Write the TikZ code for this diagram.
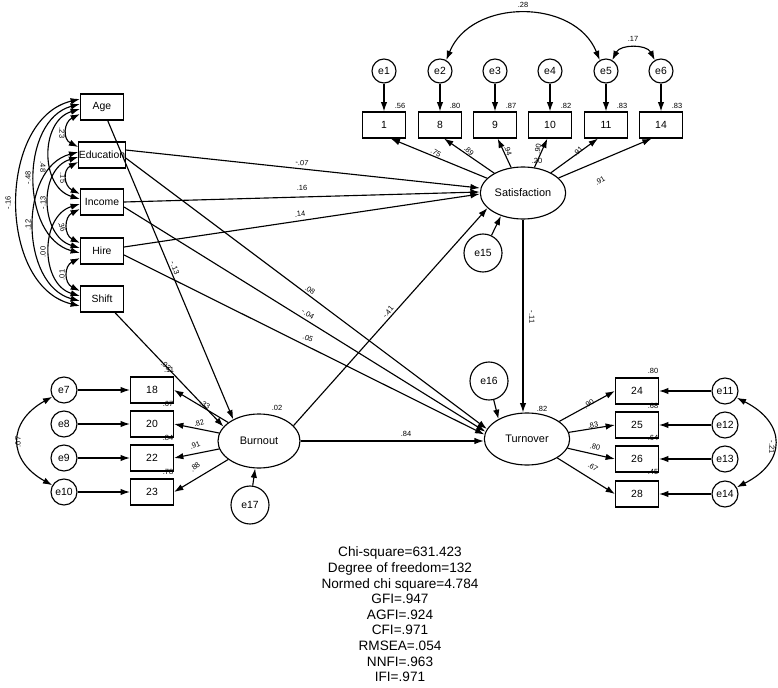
\documentclass[tikz,border=0pt]{standalone}
\usepackage{fontspec}
\setmainfont{Liberation Sans}
\usetikzlibrary{arrows.meta,shapes.geometric,calc}
\begin{document}
\begin{tikzpicture}[x=0.75pt,y=0.75pt,
 >={Latex[length=7pt,width=4.8pt]},
 conn/.style={->,line width=0.85pt},
 dconn/.style={<->,line width=0.85pt},
 obs/.style={draw,line width=0.85pt,minimum width=32.25pt,minimum height=19.5pt,inner sep=0pt,font=\fontsize{7.8}{8}\selectfont},
 err/.style={draw,circle,line width=0.85pt,minimum size=18pt,inner sep=0pt,font=\fontsize{7.8}{8}\selectfont},
 errb/.style={err,minimum size=19.5pt},
 errl/.style={err,minimum size=28.5pt},
 lat/.style={draw,ellipse,line width=0.85pt,minimum width=64pt,minimum height=39pt,inner sep=0pt,font=\fontsize{8.2}{9}\selectfont},
 lbl/.style={font=\fontsize{5.6}{6}\selectfont,inner sep=0.5pt},
 stats/.style={align=center,font=\fontsize{10.2}{11.7}\selectfont,inner sep=0pt},
]
\useasboundingbox (0,0) rectangle (778,687);

% exogenous boxes
\node[obs] (age)   at (102,580) {Age};
\node[obs] (edu)   at (102,532) {Education};
\node[obs] (inc)   at (102,485) {Income};
\node[obs] (hire)  at (102,436) {Hire};
\node[obs] (shift) at (102,388) {Shift};

% satisfaction indicators
\node[obs] (b1)  at (384,562) {1};
\node[obs] (b8)  at (440,562) {8};
\node[obs] (b9)  at (495,562) {9};
\node[obs] (b10) at (550,562) {10};
\node[obs] (b11) at (606,562) {11};
\node[obs] (b14) at (661,562) {14};
\node[err] (e1) at (384,616) {e1};
\node[err] (e2) at (440,616) {e2};
\node[err] (e3) at (495,616) {e3};
\node[err] (e4) at (550,616) {e4};
\node[err] (e5) at (606,616) {e5};
\node[err] (e6) at (661,616) {e6};

% latents
\node[lat] (sat)  at (523,494) {Satisfaction};
\node[lat] (turn) at (527,248) {Turnover};
\node[lat,minimum width=61.5pt,minimum height=40.5pt] (burn) at (259,246) {Burnout};
\node[errl] (e15) at (483,434) {e15};
\node[errl] (e16) at (489,306) {e16};
\node[errl] (e17) at (250,182) {e17};

% burnout indicators
\node[obs] (b18) at (152,297) {18};
\node[obs] (b20) at (152,263) {20};
\node[obs] (b22) at (152,229) {22};
\node[obs] (b23) at (152,195) {23};
\node[errb] (e7)  at (64,297) {e7};
\node[errb] (e8)  at (64,263) {e8};
\node[errb] (e9)  at (64,229) {e9};
\node[errb] (e10) at (64,195) {e10};

% turnover indicators
\node[obs] (b24) at (637,296) {24};
\node[obs] (b25) at (637,262) {25};
\node[obs] (b26) at (637,228) {26};
\node[obs] (b28) at (637,193) {28};
\node[errb] (e11) at (725,296) {e11};
\node[errb] (e12) at (725,262) {e12};
\node[errb] (e13) at (725,228) {e13};
\node[errb] (e14) at (725,193) {e14};

% error arrows
\foreach \e/\b in {e1/b1,e2/b8,e3/b9,e4/b10,e5/b11,e6/b14,e7/b18,e8/b20,e9/b22,e10/b23,e11/b24,e12/b25,e13/b26,e14/b28}
  \draw[conn] (\e) -- (\b);

% satisfaction loadings
\draw[conn] (sat) -- ([xshift=5pt]b1.south);
\draw[conn] (sat) -- ([xshift=3pt]b8.south);
\draw[conn] (sat) -- ([xshift=2pt]b9.south);
\draw[conn] (sat) -- ([xshift=-2pt]b10.south);
\draw[conn] (sat) -- ([xshift=-6pt]b11.south);
\draw[conn] (sat) -- ([xshift=-7pt]b14.south);

% burnout / turnover loadings
\foreach \b in {b18,b20,b22,b23} \draw[conn] (burn) -- (\b.east);
\foreach \b in {b24,b25,b26,b28} \draw[conn] (turn) -- (\b.west);

% disturbances
\draw[conn] (e15) -- (sat.226);
\draw[conn] (e16) -- (turn.145);
\draw[conn] (e17) -- (burn);

% structural paths
\draw[conn] ($(edu.east)+(0,5)$) -- ($(sat.west)+(0,5)$);
\draw[conn] (inc.east) -- ($(sat.west)+(0,1)$);
\draw[conn] ($(hire.east)+(0,4)$) -- ($(sat.west)+(0,-1)$);
\draw[conn] (age) -- (burn.140);
\draw[conn] (shift) -- (burn.158);
\draw[conn] ($(edu.east)+(0,-3)$) -- (turn.166);
\draw[conn] ($(inc.east)+(0,-5)$) -- (turn.170);
\draw[conn] ($(hire.east)+(0,-4)$) -- (turn.174);
\draw[conn] (burn.24) -- (sat.203);
\draw[conn] (burn.east) -- (burn.east -| turn.west);
\draw[conn] (sat.south) -- (sat.south |- turn.north);

% covariances among exogenous
\draw[dconn] ($(age.west)+(0,-7)$) .. controls +(-16,-8) and +(-16,8) .. ($(edu.west)+(0,8)$);
\draw[dconn] ($(age.west)+(0,-2)$) .. controls +(-40,-12) and +(-40,12) .. ($(inc.west)+(0,3)$);
\draw[dconn] ($(age.west)+(0,3)$) .. controls +(-60,-16) and +(-60,16) .. ($(hire.west)+(0,-2)$);
\draw[dconn] ($(age.west)+(0,8)$) .. controls +(-83,-20) and +(-83,20) .. ($(shift.west)+(0,-7)$);
\draw[dconn] ($(edu.west)+(0,-7)$) .. controls +(-16,-8) and +(-16,8) .. ($(inc.west)+(0,8)$);
\draw[dconn] ($(edu.west)+(0,-2)$) .. controls +(-40,-12) and +(-40,12) .. ($(hire.west)+(0,3)$);
\draw[dconn] ($(edu.west)+(0,3)$) .. controls +(-60,-16) and +(-60,16) .. ($(shift.west)+(0,-2)$);
\draw[dconn] ($(inc.west)+(0,-7)$) .. controls +(-16,-8) and +(-16,8) .. ($(hire.west)+(0,8)$);
\draw[dconn] ($(inc.west)+(0,-2)$) .. controls +(-40,-12) and +(-40,12) .. ($(shift.west)+(0,3)$);
\draw[dconn] ($(hire.west)+(0,-7)$) .. controls +(-16,-8) and +(-16,8) .. ($(shift.west)+(0,8)$);

% error covariances
\draw[dconn] (e2.60) .. controls +(25,62) and +(-25,62) .. (e5.120);
\draw[dconn] (e5.60) .. controls +(8,16) and +(-8,16) .. (e6.120);
\draw[dconn] (e7.210) .. controls +(-45,-25) and +(-45,25) .. (e10.150);
\draw[dconn] (e11.330) .. controls +(50,-25) and +(50,25) .. (e14.30);

% labels: exogenous covariances
\node[lbl,rotate=-90] (c1) at (62,554) {.23};
\node[lbl,rotate=-90] (c2) at (43,520) {.48};
\node[lbl,rotate=90]  (c3) at (28,509) {-.48};
\node[lbl,rotate=90]  (c4) at (8,484) {-.16};
\node[lbl,rotate=-90] (c5) at (63,509) {.15};
\node[lbl,rotate=90]  (c6) at (43,484) {-.13};
\node[lbl,rotate=-70] (c7) at (62,460) {.36};
\node[lbl,rotate=90]  (c8) at (28,462) {.12};
\node[lbl,rotate=90]  (c9) at (43,435) {.00};
\node[lbl,rotate=90]  (c10) at (62,412) {.01};

% labels: satisfaction part
\node[lbl] (r1) at (400,581) {.56};
\node[lbl] (r8) at (455,581) {.80};
\node[lbl] (r9) at (511,581) {.87};
\node[lbl] (r10) at (566,581) {.82};
\node[lbl] (r11) at (622,581) {.83};
\node[lbl] (r14) at (677,581) {.83};
\node[lbl] (c28) at (523,682) {.28};
\node[lbl] (c17) at (633,648) {.17};
\node[lbl,rotate=-30] (l1) at (436,534) {.75};
\node[lbl,rotate=-45] (l8) at (469,536) {.89};
\node[lbl,rotate=-70] (l9) at (508,536) {.94};
\node[lbl,rotate=80]  (l10) at (538,538) {.90};
\node[lbl] (rsat) at (537,526) {.20};
\node[lbl,rotate=45]  (l11) at (578,536) {.91};
\node[lbl,rotate=30]  (l14) at (600,506) {.91};

% labels: structural
\node[lbl,rotate=-5]  (p1) at (302,524) {-.07};
\node[lbl]            (p2) at (302,499) {.16};
\node[lbl,rotate=6]   (p3) at (300,473) {.14};
\node[lbl,rotate=-68] (p4) at (175,419) {-.13};
\node[lbl,rotate=-35] (p5) at (310,397) {.08};
\node[lbl,rotate=-32] (p6) at (308,373) {-.04};
\node[lbl,rotate=-25] (p7) at (308,349) {.05};
\node[lbl,rotate=50]  (p8) at (388,375) {-.41};
\node[lbl,rotate=-90] (p9) at (532,370) {-.11};
\node[lbl]            (p10) at (406,253) {.84};
\node[lbl,rotate=-40] (p11) at (166,321) {.03};

% labels: burnout part
\node[lbl] (rburn) at (277,279) {.02};
\node[lbl] (r18) at (169,317) {.11};
\node[lbl] (r20) at (168,283) {.67};
\node[lbl] (r22) at (168,249) {.84};
\node[lbl] (r23) at (168,215) {.78};
\node[lbl,rotate=-30] (l18) at (205,282) {.33};
\node[lbl,rotate=15]  (l20) at (199,264) {.82};
\node[lbl,rotate=20]  (l22) at (195,242) {.91};
\node[lbl,rotate=40]  (l23) at (195,220) {.88};
\node[lbl,rotate=90]  (c07) at (18,245) {.07};

% labels: turnover part
\node[lbl] (rturn) at (542,278) {.82};
\node[lbl] (r24) at (653,316) {.80};
\node[lbl] (r25) at (653,281) {.68};
\node[lbl] (r26) at (653,249) {.64};
\node[lbl] (r28) at (653,215) {.45};
\node[lbl,rotate=35]  (l24) at (589,283) {.90};
\node[lbl,rotate=12]  (l25) at (593,262) {.83};
\node[lbl,rotate=-15] (l26) at (595,240) {.80};
\node[lbl,rotate=-35] (l28) at (593,220) {.67};
\node[lbl,rotate=-90] (c21) at (772,240) {-.21};

% fit statistics
\node[stats] (fit) at (400,72.5) {Chi-square=631.423\\Degree of freedom=132\\Normed chi square=4.784\\GFI=.947\\AGFI=.924\\CFI=.971\\RMSEA=.054\\NNFI=.963\\IFI=.971};
\end{tikzpicture}
\end{document}
